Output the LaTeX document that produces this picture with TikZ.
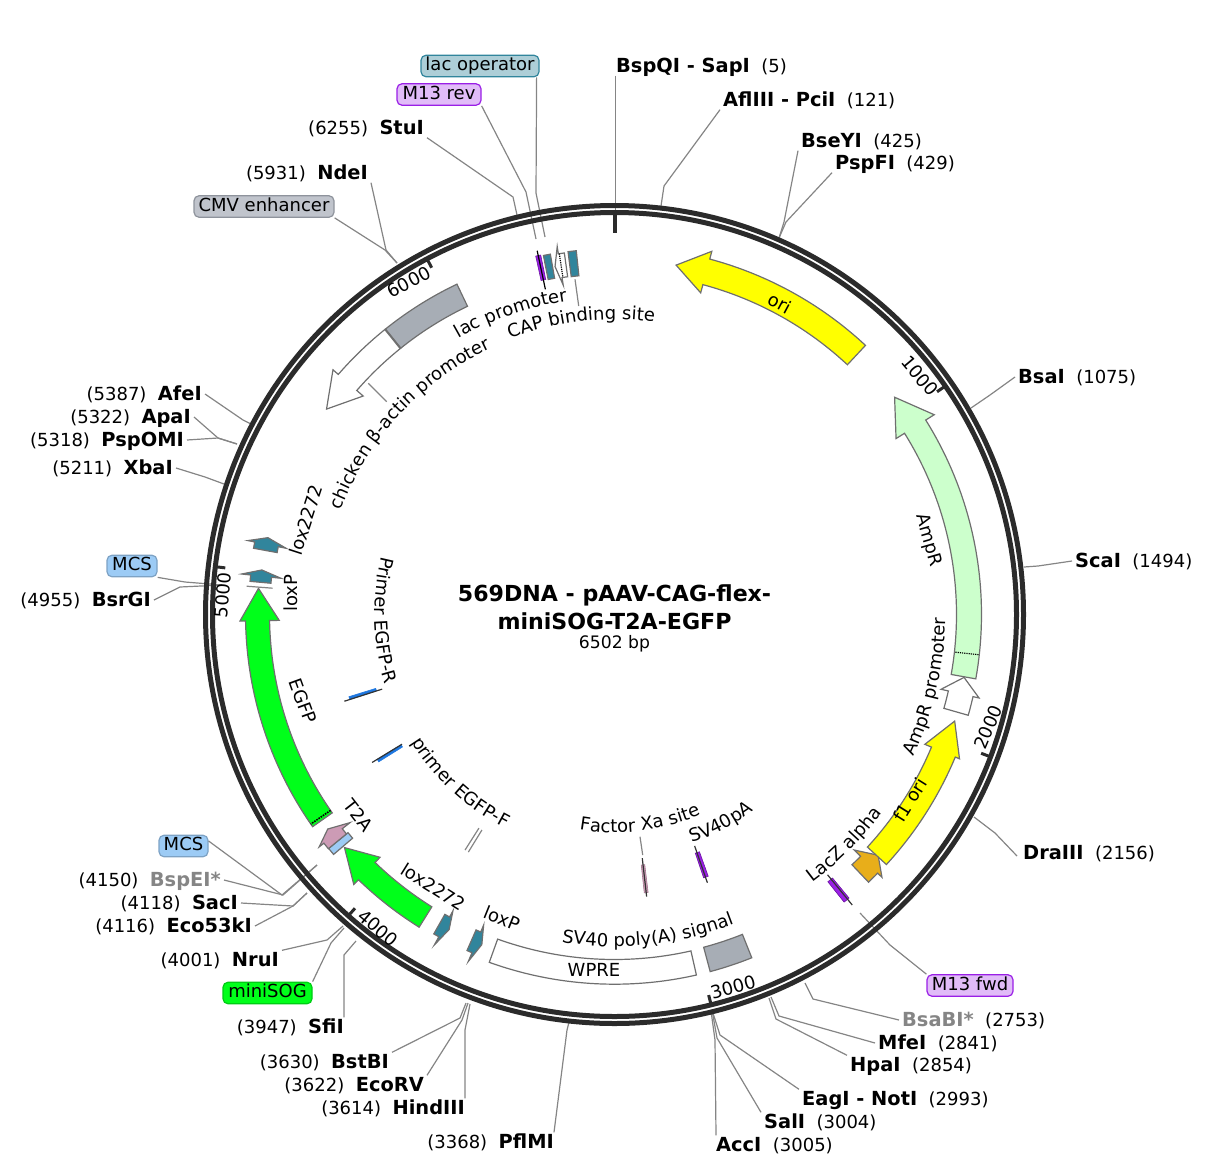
\documentclass[tikz,border=0pt]{standalone}
\usepackage{fontspec}
\setmainfont{DejaVu Sans}
\usetikzlibrary{decorations.text}
\definecolor{ringc}{HTML}{2B2B2B}
\definecolor{leadc}{HTML}{858585}
\definecolor{outl}{HTML}{6F6F6F}
\definecolor{fteal}{HTML}{31859C}
\definecolor{fpurple}{HTML}{9A1FE6}
\definecolor{fgrey}{HTML}{A7ADB5}
\definecolor{forange}{HTML}{E8AE1A}
\definecolor{fpink}{HTML}{CC9BB5}
\definecolor{fblue}{HTML}{1E77E0}
\definecolor{flgreen}{HTML}{CCFFCC}
\definecolor{fgreen}{HTML}{00FF1A}
\definecolor{fskyb}{HTML}{9CCBF5}
\definecolor{fyellow}{HTML}{FFFF00}
\definecolor{pillgrey}{HTML}{C0C4CC}
\definecolor{pillgreyb}{HTML}{8E939C}
\newcommand\CX{614.5}
\newcommand\CY{614.5}
\newcommand\lab{\fontsize{18}{21}\selectfont}
\newcommand\bld[1]{{\fontsize{19.4}{21}\selectfont\bfseries #1}}
\newcommand\Pol[2]{({\CX+(#1)*sin(#2)},{\CY-(#1)*cos(#2)})}
% band
\newcommand\band[5][]{\draw[feat,#1] plot[domain=#4:#5,samples=40] ({\CX+#3*sin(\x)},{\CY-#3*cos(\x)}) -- plot[domain=#5:#4,samples=40] ({\CX+#2*sin(\x)},{\CY-#2*cos(\x)}) -- cycle;}
% arrow: [style]{ri}{ro}{tail}{neck}{tip}{head in}{head out}
\newcommand\arrowf[8][]{\draw[feat,#1] plot[domain=#4:#5,samples=40] ({\CX+#3*sin(\x)},{\CY-#3*cos(\x)}) -- \Pol{#8}{#5} -- \Pol{(#2+#3)/2}{#6} -- \Pol{#7}{#5} -- plot[domain=#5:#4,samples=40] ({\CX+#2*sin(\x)},{\CY-#2*cos(\x)}) -- cycle;}
% curved label
\newcommand\arclab[4]{\path[decorate,decoration={text along path,text align=center,text={|\lab|#1}}] plot[domain=#3:#4,samples=80] ({\CX+#2*sin(\x)},{\CY-#2*cos(\x)});}
% site line
\newcommand\radial[4][]{\draw[#1] \Pol{#3}{#2} -- \Pol{#4}{#2};}
\newcommand\lead[3]{\path (#2) coordinate (lb) (#3) coordinate (le); \draw[leader] (#1) -- (lb) -- (le);}
\tikzset{
 feat/.style={draw=outl,line width=1.2pt,line join=miter,fill=white},
 slim/.style={line width=0.6pt},
 leader/.style={draw=leadc,line width=1.2pt},
 site/.style={anchor=west,inner sep=3pt,text height=13pt,text depth=0pt,font=\lab},
 pill/.style={rounded corners=5pt,line width=1.2pt,inner sep=0pt,minimum height=21.5pt,text height=13pt,text depth=3.5pt,font=\lab},
 flat/.style={inner sep=0pt,font=\lab},
 tick/.style={draw=ringc,line width=3pt},
}
\begin{document}
\begin{tikzpicture}[x=1pt,y=-1pt]
\useasboundingbox (0,0) rectangle (1214,1172);
% site labels
\node[site] (BspQI) at (613,66) {\bld{BspQI - SapI}\ \ (5)};
\node[site] (AflIII) at (720,100) {\bld{AflIII - PciI}\ \ (121)};
\node[site] (BseYI) at (798,141) {\bld{BseYI}\ \ (425)};
\node[site] (PspFI) at (832,163) {\bld{PspFI}\ \ (429)};
\node[site] (BsaI) at (1015,377) {\bld{BsaI}\ \ (1075)};
\node[site] (ScaI) at (1072,561) {\bld{ScaI}\ \ (1494)};
\node[site] (DraIII) at (1020,853) {\bld{DraIII}\ \ (2156)};
\node[site] (BsaBI) at (899,1020) {\bld{\textcolor{leadc}{BsaBI*}}\ \ (2753)};
\node[site] (MfeI) at (875,1043) {\bld{MfeI}\ \ (2841)};
\node[site] (HpaI) at (847,1065) {\bld{HpaI}\ \ (2854)};
\node[site] (EagI) at (799,1099) {\bld{EagI - NotI}\ \ (2993)};
\node[site] (SalI) at (761,1122) {\bld{SalI}\ \ (3004)};
\node[site] (AccI) at (713,1145) {\bld{AccI}\ \ (3005)};
\node[site,anchor=east] (PflMI) at (557,1142) {(3368)\ \ \bld{PflMI}};
\node[site,anchor=east] (HindIII) at (468,1108) {(3614)\ \ \bld{HindIII}};
\node[site,anchor=east] (EcoRV) at (427,1085) {(3622)\ \ \bld{EcoRV}};
\node[site,anchor=east] (BstBI) at (392,1062) {(3630)\ \ \bld{BstBI}};
\node[site,anchor=east] (SfiI) at (347,1027) {(3947)\ \ \bld{SfiI}};
\node[site,anchor=east] (NruI) at (282,960) {(4001)\ \ \bld{NruI}};
\node[site,anchor=east] (Eco) at (255,926) {(4116)\ \ \bld{Eco53kI}};
\node[site,anchor=east] (SacI) at (241,903) {(4118)\ \ \bld{SacI}};
\node[site,anchor=east] (BspEI) at (224,880) {(4150)\ \ \bld{\textcolor{leadc}{BspEI*}}};
\node[site,anchor=east] (BsrGI) at (154,600) {(4955)\ \ \bld{BsrGI}};
\node[site,anchor=east] (XbaI) at (176,468) {(5211)\ \ \bld{XbaI}};
\node[site,anchor=east] (PspOMI) at (187,440) {(5318)\ \ \bld{PspOMI}};
\node[site,anchor=east] (ApaI) at (194,417) {(5322)\ \ \bld{ApaI}};
\node[site,anchor=east] (AfeI) at (205,394) {(5387)\ \ \bld{AfeI}};
\node[site,anchor=east] (NdeI) at (371,173) {(5931)\ \ \bld{NdeI}};
\node[site,anchor=east] (StuI) at (427,128) {(6255)\ \ \bld{StuI}};
% pills
\node[pill,draw=fteal,fill=fteal!40!white,minimum width=118pt] (lacop) at (480,66) {lac operator};
\node[pill,draw=fpurple,fill=fpurple!30!white,minimum width=84pt] (m13rev) at (439,94.5) {M13 rev};
\node[pill,draw=pillgreyb,fill=pillgrey,minimum width=140pt] (cmv) at (264,206.5) {CMV enhancer};
\node[pill,draw=fskyb!80!black,fill=fskyb,minimum width=50pt] (mcsA) at (132,566) {MCS};
\node[pill,draw=fskyb!80!black,fill=fskyb,minimum width=49pt] (mcsB) at (183.5,846) {MCS};
\node[pill,draw=fgreen!80!black,fill=fgreen,minimum width=89pt] (minisog) at (267.5,993) {miniSOG};
\node[pill,draw=fpurple,fill=fpurple!30!white,minimum width=86pt] (m13fwd) at (970,985.5) {M13 fwd};
% leaders
\lead{[xshift=2.3pt]BspQI.south west}{615.3,150}{615.3,213}
\lead{AflIII.south west}{664,186}{661,206}
\lead{BseYI.south west}{784,222}{779,238}
\lead{PspFI.south west}{786,222}{779,238}
\lead{BsaI.west}{990,395}{971,408}
\lead{ScaI.west}{1038,566}{1024,567}
\lead{[xshift=-3pt,yshift=-3pt]DraIII.west}{995,833}{974,817}
\lead{m13fwd.north west}{890,945}{860,913}
\lead{BsaBI.west}{813,999}{805,983}
\lead{MfeI.west}{779,1016}{771,997}
\lead{HpaI.north west}{776,1019}{769,998}
\lead{EagI.north west}{720,1035}{712,1010}
\lead{SalI.north west}{717,1038}{712,1010}
\lead{[xshift=3pt]AccI.north west}{715,1040}{711,1011}
\lead{[xshift=-3pt]PflMI.north east}{567,1030}{569,1022}
\lead{[xshift=-3pt]HindIII.north east}{465,1030}{470,1004}
\lead{EcoRV.north east}{462,1020}{468,1003}
\lead{BstBI.north east}{460,1018}{466,1003}
\lead{[xshift=-3pt]SfiI.north east}{344,955}{356,941}
\lead{minisog.north east}{331,943}{344,928}
\lead{NruI.north east}{327,940}{343,926}
\lead{Eco.east}{293,906}{307,893}
\lead{SacI.east}{293,906}{307,893}
\lead{BspEI.east}{283,895}{317,865}
\lead{[yshift=5pt]mcsB.east}{282,895}{317,865}
\lead{BsrGI.east}{180,587}{222,585}
\lead{mcsA.south east}{185,582}{222,585}
\lead{XbaI.east}{205,477}{224,484}
\lead{PspOMI.east}{218,438}{237,444}
\lead{ApaI.east}{218,438}{237,444}
\lead{AfeI.east}{243,420}{251,424}
\lead{cmv.south east}{385,250}{397,263}
\lead{NdeI.south east}{386,250}{397,263}
\lead{StuI.south east}{513,197}{517,215}
\lead{m13rev.south east}{526,192}{536,239}
\lead{[xshift=-3pt]lacop.south east}{536,193}{545,237}
% ring
\draw[draw=ringc,line width=5pt] (\CX,\CY) circle [radius=409];
\draw[draw=ringc,line width=5pt] (\CX,\CY) circle [radius=402];
\radial[draw=ringc,line width=4pt]{0}{382}{402}
\foreach \a in {55.37,110.73,166.1,221.46,276.83,332.2} {\radial[tick]{\a}{392}{402}}
\node[flat,rotate=-50] (t1k) at (920,376) {1000};
\node[flat,rotate=67] (t2k) at (988,727) {2000};
\node[flat,rotate=15] (t3k) at (733,987) {3000};
\node[flat,rotate=-40] (t4k) at (378,928) {4000};
\node[flat,rotate=86] (t5k) at (223,595) {5000};
\node[flat,rotate=28] (t6k) at (409,282) {6000};
% outer-track features
\arrowf[fill=fyellow]{341.5}{368}{43}{15}{10}{333}{376}
\band[fill=fgrey]{341.5}{366}{321.2}{334.5}
\arrowf{341.5}{366}{321.2}{311}{305.5}{333}{373}
\draw[feat,line width=2pt,fill=none] \Pol{341.5}{321.2} -- \Pol{366}{321.2};
\arrowf[fill=flgreen]{342}{367}{100.1}{58}{52.2}{332}{377}
\draw[densely dotted,line width=1.2pt] \Pol{343}{96.3} -- \Pol{367}{96.3};
\arrowf{342.5}{367.8}{105.9}{102.9}{100.2}{335}{374}
\arrowf[fill=forange]{345}{369}{136.5}{134.5}{132.4}{336}{375}
\arrowf[fill=fyellow]{343.6}{369.4}{132.6}{112.7}{107.4}{336.4}{374}
\band[fill=fgrey]{344.5}{369.7}{158.2}{165}
\band{345}{369.7}{167.2}{199.8}
\arrowf[fill=fteal]{344.5}{367}{203.7}{202.85}{201.9}{337}{376.5}
\arrowf[fill=fteal]{344.5}{367}{209.5}{208.6}{207.7}{337.5}{376.4}
\arrowf[fill=fgreen]{344.7}{368.7}{212}{224}{229.2}{337.5}{375.3}
\band[fill=fskyb]{344.4}{369.4}{229.5}{230.7}
\arrowf[fill=fpink]{346.4}{369.8}{230.7}{231.8}{233.2}{336.6}{375.8}
\arrowf[fill=fgreen]{345}{369}{234.9}{269}{274.2}{335.3}{374.6}
\draw[densely dotted,line width=1.6pt] \Pol{345}{235.4} -- \Pol{369}{235.4};
\arrowf[fill=fteal]{345}{366}{275.2}{276.2}{277.2}{335.5}{375}
\draw[leadc,line width=1.2pt] \Pol{343}{274.4} -- \Pol{369}{274.4};
\arrowf[fill=fteal]{343}{367}{280.4}{281.4}{282.5}{335}{374}
\band[fill=fpurple,draw=fpurple!70!black,slim]{342}{367}{347.6}{348.4}
\radial[draw=black,line width=1.2pt]{348}{332.4}{371.9}
\band[fill=fteal]{341.5}{366}{348.8}{349.9}
\arrowf{341}{365}{352.1}{351.15}{350.3}{333.4}{372.4}
\draw[densely dotted,line width=1.2pt] \Pol{342}{351.3} -- \Pol{365}{351.3};
\band[fill=fteal]{340.6}{365.8}{352.7}{354}
% inner-track features
\draw[leadc,line width=1.2pt] (575,279.3) -- (578.7,306);
\draw[leadc,line width=1.2pt] (368.3,383.3) -- (386.7,401.7);
\band[fill=fblue,draw=fblue,slim]{250}{278}{252.2}{252.8}
\radial[draw=black!80,line width=1.2pt]{252.2}{244}{283.7}
\band[fill=fblue,draw=fblue,slim]{250}{278}{238}{238.6}
\radial[draw=black!80,line width=1.2pt]{238.6}{249}{284}
\radial[draw=leadc,line width=1.2pt]{211.6}{253}{279}
\radial[draw=leadc,line width=1.2pt]{212.4}{253}{279}
\draw[leadc,line width=1.2pt] (640,836.7) -- (642.7,855);
\band[fill=fpink,draw=fpink!80!black,slim]{252}{280}{173.1}{173.9}
\radial[draw=black!80,line width=1.2pt]{173.5}{245.3}{284}
\band[fill=fpurple,draw=fpurple!70!black,slim]{252}{278}{160.3}{161.3}
\radial[draw=black!80,line width=1.2pt]{160.9}{244.9}{283.9}
\band[fill=fpurple,draw=fpurple!70!black,slim]{342}{368}{140.4}{141.4}
\radial[draw=black!80,line width=1.2pt]{140.7}{336.4}{375.4}
% feature labels
\node[flat,rotate=-28] (Lori) at (780,303) {ori};
\node[flat,rotate=-74] (Lamp) at (928,540) {AmpR};
\node[flat,rotate=58] (Lf1) at (910,800) {f1 ori};
\node[flat] (Lwpre) at (594,970) {WPRE};
\node[flat,rotate=-32] (Llox1) at (433.3,886.7) {lox2272};
\node[flat,rotate=-22] (Lloxp1) at (501.7,918.3) {loxP};
\node[flat,rotate=-52] (Lt2a) at (358.3,815) {T2A};
\node[flat,rotate=-70] (Legfp) at (303,701) {EGFP};
\node[flat,rotate=90] (Lloxp2) at (291,593) {loxP};
\node[flat,rotate=72] (Llox2) at (306,520) {lox2272};
\arclab{chicken β-actin promoter}{293}{283}{343}
\arclab{lac promoter}{317}{321}{361}
\arclab{CAP binding site}{295}{333}{374}
\arclab{AmpR promoter}{331}{133}{73}
\arclab{LacZ alpha}{333}{155}{115}
\arclab{SV40pA}{241}{173}{133}
\arclab{Factor Xa site}{218}{203}{143}
\arclab{SV40 poly(A) signal}{332}{204}{144}
\arclab{Primer EGFP-R}{240}{300}{237}
\arclab{primer EGFP-F}{240}{253}{192}
% title
\node[font=\fontsize{22.1}{25}\selectfont\bfseries,inner sep=0pt] (T1) at (614.5,595) {569DNA - pAAV-CAG-flex-};
\node[font=\fontsize{22.1}{25}\selectfont\bfseries,inner sep=0pt] (T2) at (614.5,621) {miniSOG-T2A-EGFP};
\node[font=\fontsize{17.2}{20}\selectfont,inner sep=0pt] (T3) at (614.5,644) {6502 bp};
\end{tikzpicture}
\end{document}
